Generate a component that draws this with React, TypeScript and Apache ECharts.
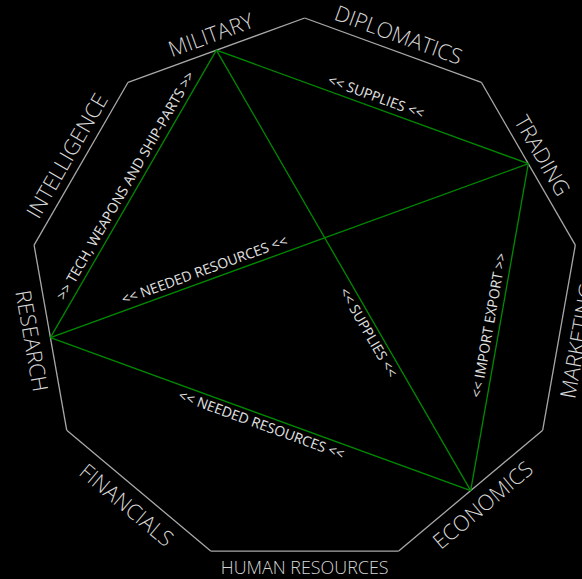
import React, { useEffect, useRef } from 'react';
import * as echarts from 'echarts';

// Sides of the nonagon, clockwise starting right of the top vertex
const sectors = [
  'DIPLOMATICS',
  'TRADING',
  'MARKETING',
  'ECONOMICS',
  'HUMAN RESOURCES',
  'FINANCIALS',
  'RESEARCH',
  'INTELLIGENCE',
  'MILITARY',
];

// Relations between sectors
const linkSources = ['MILITARY', 'MILITARY', 'TRADING', 'MILITARY', 'RESEARCH', 'TRADING'];
const linkTargets = ['TRADING', 'RESEARCH', 'RESEARCH', 'ECONOMICS', 'ECONOMICS', 'ECONOMICS'];
const linkLabels = [
  '<< SUPPLIES <<',
  '>> TECH, WEAPONS AND SHIP-PARTS >>',
  '<< NEEDED RESOURCES <<',
  '<< SUPPLIES <<',
  '<< NEEDED RESOURCES <<',
  '<< IMPORT EXPORT >>',
];

// Layout of the link labels (fraction along link, side: 1 above / -1 below)
const linkLabelAt = [0.5, 0.49, 0.67, 0.63, 0.51, 0.5];
const linkLabelSide = [1, 1, 1, -1, -1, 1];

const N = sectors.length;
const STEP = 360 / N;
const HALF = STEP / 2;
const D2R = Math.PI / 180;
const INNER = Math.cos(HALF * D2R);

const sideFont = '"Open Sans", "DejaVu Sans", sans-serif';
const SIDE_SIZE = 21.5;
const SIDE_MAX_W = 168;

function fitSize(text: string): number {
  try {
    const c = document.createElement('canvas').getContext('2d');
    if (!c) return SIDE_SIZE;
    c.font = `300 ${SIDE_SIZE}px ${sideFont}`;
    const w = c.measureText(text).width;
    return w > SIDE_MAX_W ? (SIDE_SIZE * SIDE_MAX_W) / w : SIDE_SIZE;
  } catch (e) {
    return SIDE_SIZE;
  }
}

function midAngle(i: number) {
  return 90 - HALF - STEP * i;
}

export default function App() {
  const ref = useRef<HTMLDivElement>(null);

  useEffect(() => {
    if (!ref.current) return;
    const chart = echarts.init(ref.current, null, { renderer: 'svg' });

    const sideSizes = sectors.map((s) => fitSize(s));

    const option: any = {
      animation: false,
      backgroundColor: '#000',
      grid: { left: 29.9, top: 18, width: 549.6, height: 549.6 },
      xAxis: { type: 'value', min: -1, max: 1, show: false },
      yAxis: { type: 'value', min: -1, max: 1, show: false },
      series: [
        {
          type: 'custom',
          coordinateSystem: 'cartesian2d',
          data: sectors.map((name) => ({ name, value: [0, 0] })),
          renderItem: (params: any, api: any) => {
            const i = params.dataIndex;
            const a0 = (90 - STEP * i) * D2R;
            const a1 = (90 - STEP * (i + 1)) * D2R;
            const p0 = api.coord([Math.cos(a0), Math.sin(a0)]);
            const p1 = api.coord([Math.cos(a1), Math.sin(a1)]);
            const phi = midAngle(i);
            const pr = phi * D2R;
            const m = api.coord([INNER * Math.cos(pr), INNER * Math.sin(pr)]);
            const ox = Math.cos(pr);
            const oy = -Math.sin(pr);
            const top = Math.sin(pr) > 0;
            const gap = top ? 6 : 7;
            const rot = (top ? phi - 90 : phi + 90) * D2R;
            return {
              type: 'group',
              children: [
                {
                  type: 'line',
                  shape: { x1: p0[0], y1: p0[1], x2: p1[0], y2: p1[1] },
                  style: { stroke: '#a8a8a8', lineWidth: 1.3 },
                },
                {
                  type: 'text',
                  x: m[0] + ox * gap,
                  y: m[1] + oy * gap,
                  rotation: rot,
                  style: {
                    text: sectors[i],
                    fill: '#d6d6d6',
                    fontSize: sideSizes[i],
                    fontFamily: sideFont,
                    fontWeight: 300,
                    align: 'center',
                    verticalAlign: top ? 'bottom' : 'top',
                  },
                },
              ],
            };
          },
        },
        {
          type: 'custom',
          coordinateSystem: 'cartesian2d',
          data: linkLabels.map((name) => ({ name, value: [0, 0] })),
          renderItem: (params: any, api: any) => {
            const k = params.dataIndex;
            const si = sectors.indexOf(linkSources[k]);
            const ti = sectors.indexOf(linkTargets[k]);
            const sa = midAngle(si) * D2R;
            const ta = midAngle(ti) * D2R;
            const p1 = api.coord([INNER * Math.cos(sa), INNER * Math.sin(sa)]);
            const p2 = api.coord([INNER * Math.cos(ta), INNER * Math.sin(ta)]);
            const dx = p2[0] - p1[0];
            const dy = p2[1] - p1[1];
            let rot = Math.atan2(-dy, dx);
            if (rot > Math.PI / 2) rot -= Math.PI;
            if (rot < -Math.PI / 2) rot += Math.PI;
            const ux = -Math.sin(rot);
            const uy = -Math.cos(rot);
            const t = linkLabelAt[k];
            const side = linkLabelSide[k];
            const dist = side > 0 ? 11.5 : 9;
            const cx = p1[0] + dx * t + ux * dist * side;
            const cy = p1[1] + dy * t + uy * dist * side;
            return {
              type: 'group',
              children: [
                {
                  type: 'line',
                  shape: { x1: p1[0], y1: p1[1], x2: p2[0], y2: p2[1] },
                  style: { stroke: '#008a00', lineWidth: 1.3 },
                },
                {
                  type: 'text',
                  x: cx,
                  y: cy,
                  rotation: rot,
                  style: {
                    text: linkLabels[k],
                    fill: '#e2e2e2',
                    fontSize: 14,
                    fontFamily: sideFont,
                    align: 'center',
                    verticalAlign: 'middle',
                  },
                },
              ],
            };
          },
        },
      ],
    };

    chart.setOption(option);
    return () => {
      chart.dispose();
    };
  }, []);

  return (
    <div
      ref={ref}
      style={{
        position: 'absolute',
        left: 0,
        top: 0,
        width: 582,
        height: 579,
        background: '#000',
      }}
    />
  );
}
